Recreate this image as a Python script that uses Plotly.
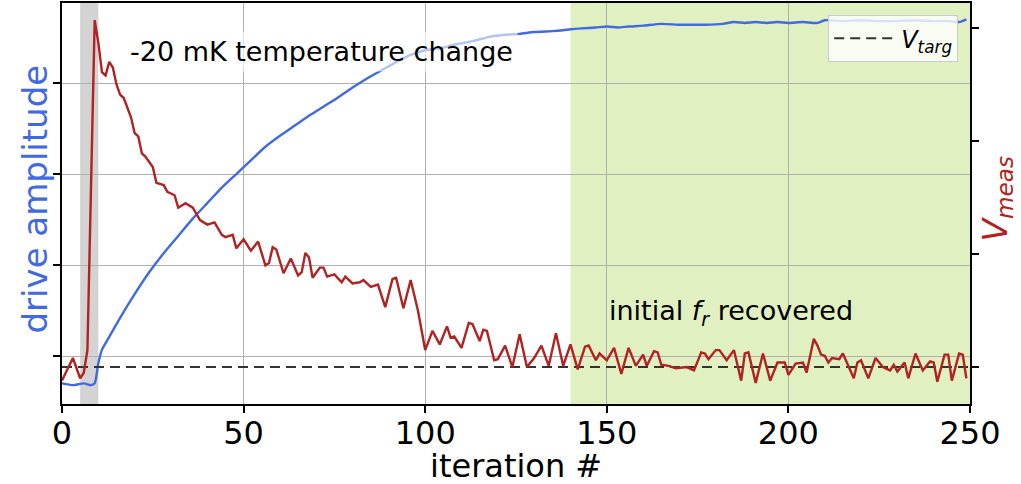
import plotly.graph_objects as go

# ---------------- data ----------------
# drive amplitude (left axis, arbitrary units)
drive_iter = [0, 3, 6, 8, 9, 10, 11, 13, 16, 20, 24, 28, 32, 36, 40, 44, 48, 52, 56, 60,
              64, 68, 72, 76, 80, 84, 88, 92, 96, 100, 104, 108, 113, 118, 122, 126, 130,
              135, 138, 140, 143, 147, 150, 153, 156, 160, 165, 170, 174, 177, 182, 185,
              188, 191, 194, 197, 200, 204, 208, 210, 215, 220, 225, 229, 235, 240, 244,
              247, 249]
drive_amp = [-0.30, -0.32, -0.30, -0.32, -0.30, -0.08, 0.07, 0.21, 0.42, 0.68, 0.92, 1.13,
             1.32, 1.51, 1.68, 1.85, 2.00, 2.15, 2.30, 2.42, 2.53, 2.64, 2.74, 2.84, 2.95,
             3.05, 3.14, 3.23, 3.31, 3.36, 3.38, 3.42, 3.46, 3.51, 3.53, 3.54, 3.56, 3.57,
             3.58, 3.59, 3.60, 3.61, 3.62, 3.61, 3.62, 3.63, 3.65, 3.64, 3.64, 3.64, 3.65,
             3.67, 3.66, 3.67, 3.66, 3.67, 3.66, 3.67, 3.66, 3.69, 3.68, 3.69, 3.68, 3.68,
             3.69, 3.68, 3.68, 3.67, 3.70]

# measured voltage (right axis, relative units, V_targ = 0)
meas_iter = [0, 3, 5, 6, 7, 8, 9, 10, 11, 12, 13, 14, 15, 16, 17, 19, 20, 21, 22, 23, 25, 26,
             28, 29, 31, 32, 34, 36, 38, 40, 42, 44, 45, 47, 48, 50, 52, 54, 56, 57, 58, 59,
             61, 63, 65, 66, 67, 68, 69, 71, 72, 73, 75, 77, 78, 80, 82, 83, 85, 87, 89, 91,
             92, 94, 96, 98, 100, 102, 104, 106, 107, 108, 110, 112, 113, 115, 116, 117, 119,
             120, 122, 124, 126, 128, 130, 132, 134, 136, 138, 140, 142, 144, 145, 147, 148,
             150, 152, 154, 156, 158, 160, 161, 163, 164, 165, 167, 169, 172, 174, 176, 177,
             178, 180, 181, 183, 185, 187, 188, 189, 191, 193, 195, 197, 199, 200, 202, 204,
             205, 207, 208, 209, 210, 211, 212, 214, 215, 216, 218, 219, 220, 222, 224, 226,
             228, 229, 230, 232, 233, 235, 237, 239, 240, 241, 243, 244, 245, 247, 248, 249]
meas_v = [-0.12, 0.08, -0.10, -0.05, 0.15, 1.77, 3.07, 2.87, 2.61, 2.58, 2.70, 2.65, 2.50,
          2.41, 2.38, 2.21, 2.07, 2.04, 1.89, 1.86, 1.77, 1.63, 1.61, 1.55, 1.52, 1.41, 1.45,
          1.41, 1.30, 1.26, 1.28, 1.17, 1.15, 1.17, 1.05, 1.13, 1.03, 1.11, 0.90, 0.92, 1.06,
          1.04, 0.83, 0.96, 0.81, 0.84, 1.01, 0.97, 0.79, 0.88, 0.88, 0.80, 0.82, 0.75, 0.80,
          0.74, 0.75, 0.77, 0.71, 0.73, 0.53, 0.78, 0.79, 0.52, 0.77, 0.50, 0.15, 0.32, 0.20,
          0.36, 0.26, 0.27, 0.17, 0.39, 0.38, 0.23, 0.33, 0.32, 0.06, 0.07, 0.19, 0.00, 0.29,
          0.00, 0.08, 0.19, 0.01, 0.30, 0.01, 0.20, -0.02, 0.18, 0.19, 0.06, 0.12, 0.06, 0.17,
          -0.06, 0.17, 0.01, 0.11, 0.01, 0.14, 0.13, 0.02, 0.01, -0.01, 0.00, -0.03, 0.13,
          0.12, 0.07, 0.15, 0.15, 0.06, 0.15, -0.12, 0.12, 0.13, -0.14, 0.12, -0.12, 0.04,
          0.04, -0.07, 0.03, 0.04, -0.05, 0.25, 0.19, 0.11, 0.10, 0.04, 0.08, 0.07, 0.12,
          0.05, -0.10, 0.04, 0.06, -0.10, 0.08, 0.00, -0.03, 0.02, -0.04, 0.04, -0.10, 0.12,
          -0.03, 0.05, 0.04, -0.13, 0.11, 0.11, -0.12, 0.12, 0.11, -0.10]

target_iter = [0, 250]
target_v = [0, 0]

disturb_span = [5, 10]
recovered_span = [140, 250]
x_ticks = [0, 50, 100, 150, 200, 250]

BLUE = "#4169E1"
RED = "#B22222"
FONT = "DejaVu Sans"

fig = go.Figure()

fig.add_trace(go.Scatter(x=drive_iter, y=drive_amp, mode="lines", yaxis="y",
                         line=dict(color=BLUE, width=2.4, shape="spline", smoothing=0.6),
                         showlegend=False))
fig.add_trace(go.Scatter(x=target_iter, y=target_v, mode="lines", yaxis="y2",
                         line=dict(color="#333333", width=2, dash="10px,6px"),
                         name="<i>V</i><sub><i>targ</i></sub>", showlegend=True))
fig.add_trace(go.Scatter(x=meas_iter, y=meas_v, mode="lines", yaxis="y2",
                         line=dict(color=RED, width=2.4), showlegend=False))

fig.add_vrect(x0=disturb_span[0], x1=disturb_span[1], fillcolor="#d3d3d3", opacity=1,
              line_width=0, layer="below")
fig.add_vrect(x0=recovered_span[0], x1=recovered_span[1], fillcolor="rgba(154,205,50,0.3)",
              line_width=0, layer="below")

fig.add_annotation(x=17.3, y=0.878, xref="x", yref="paper", xanchor="left", yanchor="middle",
                   text="-20 mK temperature change", showarrow=False,
                   font=dict(family=FONT, size=27, color="black"),
                   bgcolor="rgba(255,255,255,0.6)", borderpad=4)
fig.add_annotation(x=150, y=0.227, xref="x", yref="paper", xanchor="left", yanchor="middle",
                   text="initial <i>f</i><sub><i>r</i></sub> recovered", showarrow=False,
                   font=dict(family=FONT, size=27, color="black"))

# axis titles
fig.add_annotation(x=0.5, y=-0.155, xref="paper", yref="paper", xanchor="center",
                   yanchor="middle", text="iteration #", showarrow=False,
                   font=dict(family=FONT, size=32, color="black"))
fig.add_annotation(x=0, y=0.51, xref="paper", yref="paper", xshift=-27, xanchor="center",
                   yanchor="middle", text="drive amplitude", textangle=-90, showarrow=False,
                   font=dict(family=FONT, size=34, color=BLUE))
fig.add_annotation(x=1, y=0.51, xref="paper", yref="paper", xshift=27, xanchor="center",
                   yanchor="middle", text="<i>V</i><sub><i>meas</i></sub>", textangle=-90,
                   showarrow=False, font=dict(family=FONT, size=33, color=RED))

fig.update_layout(
    width=1021, height=484,
    margin=dict(l=62, r=51, t=3, b=80, autoexpand=False),
    paper_bgcolor="white", plot_bgcolor="white",
    font=dict(family=FONT, color="black"),
    xaxis=dict(range=[0, 250], tickvals=x_ticks, ticks="outside", ticklen=7, tickwidth=1.5,
               tickcolor="black", showline=True, linecolor="black", linewidth=1.5, mirror=True,
               showgrid=True, gridcolor="#b0b0b0", gridwidth=1, zeroline=False,
               automargin=False, ticklabelstandoff=-7,
               tickfont=dict(family=FONT, size=32, color="black")),
    yaxis=dict(range=[-0.527, 3.879], tickvals=[0, 1, 2, 3], showticklabels=False,
               ticks="outside", ticklen=7, tickwidth=1.5, tickcolor="black", automargin=False,
               showline=True, linecolor="black", linewidth=1.5, mirror=True,
               showgrid=True, gridcolor="#b0b0b0", gridwidth=1, zeroline=False),
    yaxis2=dict(range=[-0.327, 3.221], tickvals=[0, 1, 2, 3], showticklabels=False,
                overlaying="y", side="right", ticks="outside", ticklen=7, tickwidth=1.5,
                tickcolor="black", showline=True, linecolor="black", linewidth=1.5,
                automargin=False, showgrid=False, zeroline=False),
    legend=dict(x=0.987, y=0.97, xanchor="right", yanchor="top", itemwidth=62,
                bgcolor="rgba(255,255,255,0.8)", bordercolor="#cccccc", borderwidth=1,
                font=dict(family=FONT, size=24, color="black")),
)

fig.write_html("out.html")
